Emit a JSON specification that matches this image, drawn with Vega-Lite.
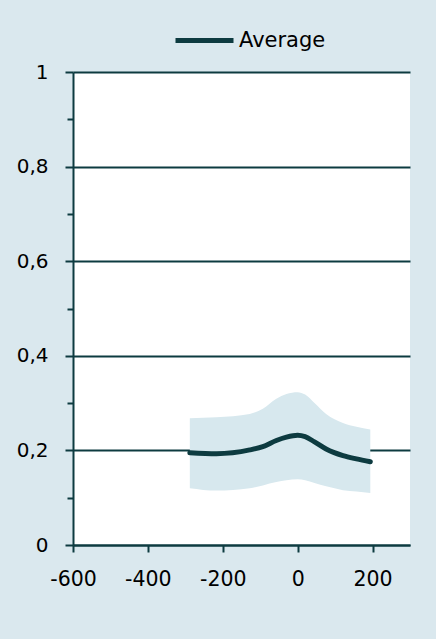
{
  "$schema": "https://vega.github.io/schema/vega-lite/v6.json",
  "autosize": "none",
  "width": 337,
  "height": 473,
  "padding": {"left": 73, "top": 72, "right": 26, "bottom": 94},
  "background": "#DAE8EE",
  "config": {
    "view": {"stroke": null, "fill": "#FFFFFF"},
    "font": "DejaVu Sans"
  },
  "data": {
    "values": [
      {"x": -288, "y": 0.195, "lo": 0.120, "hi": 0.268, "series": "Average"},
      {"x": -217, "y": 0.193, "lo": 0.115, "hi": 0.270, "series": "Average"},
      {"x": -128, "y": 0.201, "lo": 0.120, "hi": 0.277, "series": "Average"},
      {"x": -93, "y": 0.208, "lo": 0.126, "hi": 0.288, "series": "Average"},
      {"x": -57, "y": 0.221, "lo": 0.133, "hi": 0.309, "series": "Average"},
      {"x": -30, "y": 0.228, "lo": 0.137, "hi": 0.319, "series": "Average"},
      {"x": 0, "y": 0.232, "lo": 0.139, "hi": 0.323, "series": "Average"},
      {"x": 20, "y": 0.229, "lo": 0.137, "hi": 0.318, "series": "Average"},
      {"x": 45, "y": 0.218, "lo": 0.131, "hi": 0.300, "series": "Average"},
      {"x": 76, "y": 0.203, "lo": 0.124, "hi": 0.277, "series": "Average"},
      {"x": 121, "y": 0.189, "lo": 0.116, "hi": 0.258, "series": "Average"},
      {"x": 157, "y": 0.182, "lo": 0.113, "hi": 0.250, "series": "Average"},
      {"x": 194, "y": 0.176, "lo": 0.110, "hi": 0.244, "series": "Average"}
    ]
  },
  "layer": [
    {
      "mark": {"type": "area", "interpolate": "monotone", "color": "#D7E8EE", "opacity": 1},
      "encoding": {
        "x": {
          "field": "x", "type": "quantitative",
          "scale": {"domain": [-600, 300], "nice": false, "zero": false},
          "axis": {
            "values": [-600, -400, -200, 0, 200],
            "title": null,
            "grid": false,
            "labelOverlap": false,
            "labelFlush": false,
            "labelExpr": "'' + datum.value",
            "domainColor": "#0D3B40", "domainWidth": 2,
            "tickColor": "#0D3B40", "tickWidth": 2, "tickSize": 7,
            "labelFontSize": 20.5, "labelColor": "#000000", "labelPadding": 17,
            "labelFont": "DejaVu Sans"
          }
        },
        "y": {
          "field": "lo", "type": "quantitative",
          "scale": {"domain": [0, 1], "nice": false},
          "axis": {
            "values": [0, 0.1, 0.2, 0.3, 0.4, 0.5, 0.6, 0.7, 0.8, 0.9, 1],
            "title": null,
            "grid": true,
            "labelOverlap": false,
            "labelFlush": false,
            "gridColor": "#0D3B40",
            "gridWidth": 2,
            "gridOpacity": {"condition": {"test": "round(datum.value*10)%2==0", "value": 1}, "value": 0},
            "domainColor": "#0D3B40", "domainWidth": 2,
            "tickColor": "#0D3B40", "tickWidth": 2,
            "tickSize": {"condition": {"test": "round(datum.value*10)%2==0", "value": 8}, "value": 6},
            "labelExpr": "round(datum.value*10)%2!=0 ? '' : (datum.value==0 ? '0' : (datum.value==1 ? '1' : replace(format(datum.value,'.1f'),'.',',')))",
            "labelFontSize": 20, "labelColor": "#000000", "labelPadding": 17,
            "labelFont": "DejaVu Sans"
          }
        },
        "y2": {"field": "hi"}
      }
    },
    {
      "mark": {"type": "line", "interpolate": "monotone", "strokeWidth": 5, "strokeCap": "round"},
      "encoding": {
        "x": {"field": "x", "type": "quantitative"},
        "y": {"field": "y", "type": "quantitative"},
        "color": {
          "field": "series", "type": "nominal",
          "scale": {"domain": ["Average"], "range": ["#0D3B40"]},
          "legend": {
            "title": null,
            "orient": "none",
            "legendX": 100,
            "legendY": -63,
            "symbolType": "stroke",
            "symbolSize": 3364,
            "symbolStrokeWidth": 5,
            "labelFontSize": 21,
            "labelColor": "#000000",
            "labelOffset": 3,
            "labelFont": "DejaVu Sans"
          }
        }
      }
    }
  ]
}
